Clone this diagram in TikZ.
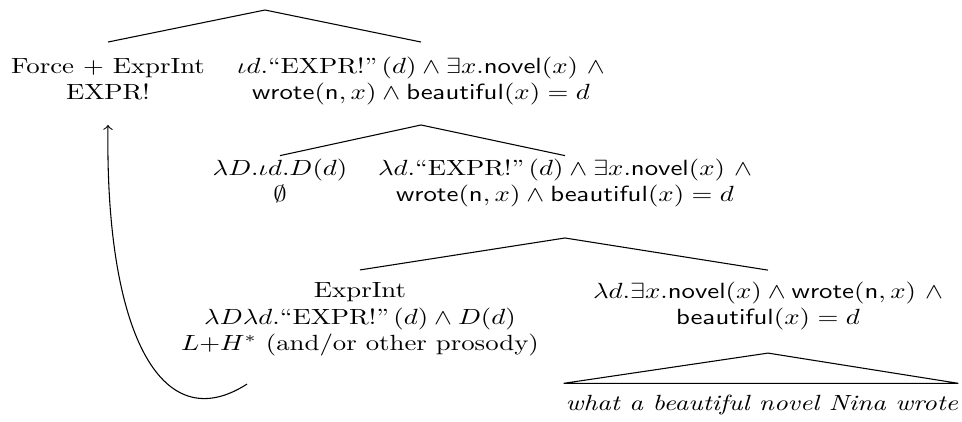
\documentclass[tikz,border=0pt]{standalone}
\usepackage{amsmath,amssymb,graphicx}
\usetikzlibrary{calc}
\newcommand{\squish}[1]{\scalebox{1}[0.82]{\begin{tabular}{@{}c@{}}#1\end{tabular}}}
\begin{document}
\begin{tikzpicture}[x=0.373pt,y=-0.373pt,
  lbl/.style={inner sep=0pt,outer sep=0pt},
  edge/.style={line width=0.4pt}]
\useasboundingbox (0,0) rectangle (962,421);
\coordinate (root) at (265,10);
\node[lbl] (n1) at (108,81) {\squish{Force $+$ ExprInt\\EXPR!}};
\node[lbl] (n2) at (421,81) {\squish{$\iota d.\text{``EXPR!''}\,(d)\land\exists x.\mathsf{novel}(x)\ \land$\\$\mathsf{wrote}(\mathsf{n},x)\land\mathsf{beautiful}(x)=d$}};
\node[lbl] (n3) at (280,183) {\squish{$\lambda D.\iota d.D(d)$\\$\emptyset$}};
\node[lbl] (n4) at (565,183) {\squish{$\lambda d.\text{``EXPR!''}\,(d)\land\exists x.\mathsf{novel}(x)\ \land$\\$\mathsf{wrote}(\mathsf{n},x)\land\mathsf{beautiful}(x)=d$}};
\node[lbl] (n5) at (360,319) {\squish{ExprInt\\$\lambda D\lambda d.\text{``EXPR!''}\,(d)\land D(d)$\\$L{+}H^*$ (and/or other prosody)}};
\node[lbl] (n6) at (768,306) {\squish{$\lambda d.\exists x.\mathsf{novel}(x)\land\mathsf{wrote}(\mathsf{n},x)\ \land$\\$\mathsf{beautiful}(x)=d$}};
\node[lbl] (n7) at (762,405) {\squish{\textit{what a beautiful novel Nina wrote}}};
\draw[edge] ($(n1.north)+(0,-12.6)$) -- (root) -- ($(n2.north)+(0,-12.6)$);
\draw[edge] ($(n3.north)+(0,-1)$) -- ($(n2.south)+(0,17.6)$) -- ($(n4.north)+(0,-1)$);
\draw[edge] ($(n5.north)+(0,-9.5)$) -- ($(n4.south)+(0,28.6)$) -- ($(n6.north)+(0,-9.5)$);
\draw[edge] ($(n7.north west)+(-2,-8.5)$) -- ($(n6.south)+(0,20.7)$) -- ($(n7.north east)+(0,-8.5)$) -- cycle;
\draw[edge,->] ($(n5.south)+(-113,25.5)$) .. controls (160,440) and (105,330) .. ($(n1.south)+(0,17.6)$);
\end{tikzpicture}
\end{document}
